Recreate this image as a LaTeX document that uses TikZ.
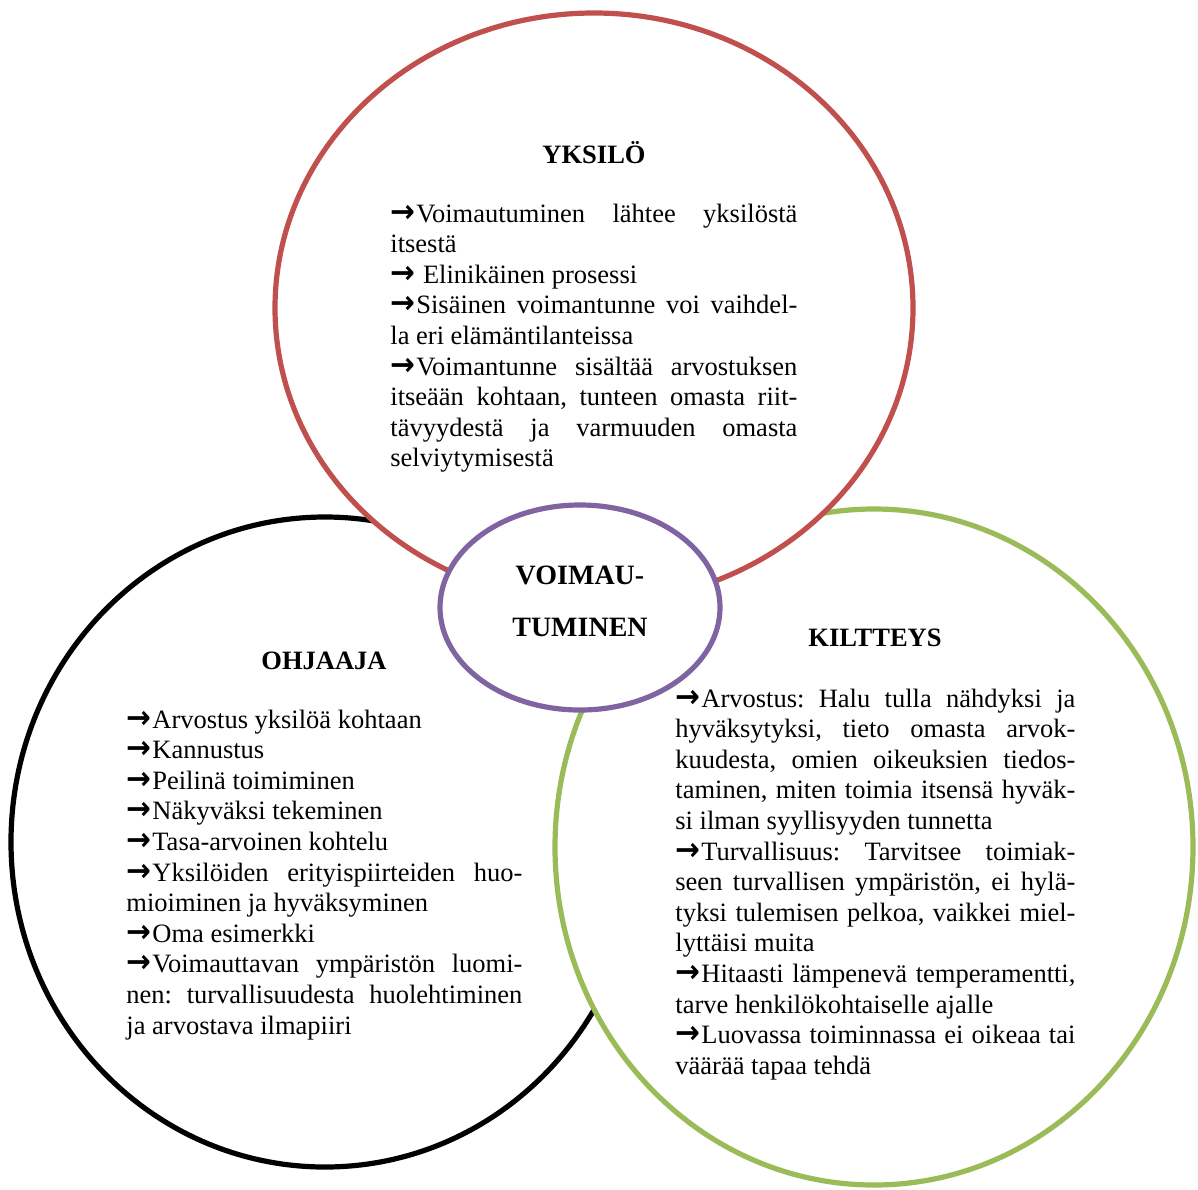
\documentclass[tikz,border=0pt]{standalone}
\usepackage{fontspec}
\setmainfont{Liberation Serif}
\newfontfamily\arrowfont{DejaVu Sans}
\usetikzlibrary{shapes.geometric}
\definecolor{ringred}{HTML}{C0504D}
\definecolor{ringgreen}{HTML}{9BBB59}
\definecolor{ringpurple}{HTML}{8064A2}
\frenchspacing
\newcommand{\arr}{\makebox[0.98em][l]{\arrowfont\bfseries\scalebox{1.12}[1.2]{→}}}
\newcommand{\jrow}[1]{\makebox[\linewidth][s]{#1}\\}
\begin{document}
\begin{tikzpicture}[x=0.5pt,y=-0.5pt,
  ring/.style={ellipse,draw,fill=white,line width=2.6pt,inner sep=0pt},
  head/.style={anchor=base,inner sep=0pt,font=\fontsize{13.25}{15.3}\selectfont\bfseries},
  body/.style={anchor=base west,inner sep=0pt,font=\fontsize{13.25}{15.3}\selectfont}]
\useasboundingbox (0,0) rectangle (1198,1189);
% rings, back to front
\node[ring,draw=black,minimum width=314pt,minimum height=325pt] (ohjaaja) at (325,842) {};
\node[ring,draw=ringgreen,minimum width=319pt,minimum height=338pt] (kiltteys) at (874,847) {};
\node[ring,draw=ringred,minimum width=319pt,minimum height=295pt] (yksilo) at (594,308) {};
\node[ring,draw=ringpurple,minimum width=140pt,minimum height=102.5pt,align=center,
  text depth=6pt,font=\fontsize{14}{26}\selectfont\bfseries] (voima) at (580,607.5) {VOIMAU-\\TUMINEN};
% headings
\node[head] (yksilo-h) at (594,163) {YKSILÖ};
\node[head] (ohjaaja-h) at (324,669) {OHJAAJA};
\node[head] (kiltteys-h) at (875,646) {KILTTEYS};
% texts
\node[body] (yksilo-t) at (390,222) {\parbox[t]{203.5pt}{%
\jrow{\arr Voimautuminen lähtee yksilöstä}
itsestä\\
\arr\ Elinikäinen prosessi\\
\jrow{\arr Sisäinen voimantunne voi vaihdel-}
la eri elämäntilanteissa\\
\jrow{\arr Voimantunne sisältää arvostuksen}
\jrow{itseään kohtaan, tunteen omasta riit-}
\jrow{tävyydestä ja varmuuden omasta}
selviytymisestä}};
\node[body] (ohjaaja-t) at (126,728) {\parbox[t]{198pt}{%
\arr Arvostus yksilöä kohtaan\\
\arr Kannustus\\
\arr Peilinä toimiminen\\
\arr Näkyväksi tekeminen\\
\arr Tasa-arvoinen kohtelu\\
\jrow{\arr Yksilöiden erityispiirteiden huo-}
mioiminen ja hyväksyminen\\
\arr Oma esimerkki\\
\jrow{\arr Voimauttavan ympäristön luomi-}
\jrow{nen: turvallisuudesta huolehtiminen}
ja arvostava ilmapiiri}};
\node[body] (kiltteys-t) at (675,707) {\parbox[t]{200pt}{%
\jrow{\arr Arvostus: Halu tulla nähdyksi ja}
\jrow{hyväksytyksi, tieto omasta arvok-}
\jrow{kuudesta, omien oikeuksien tiedos-}
\jrow{taminen, miten toimia itsensä hyväk-}
si ilman syyllisyyden tunnetta\\
\jrow{\arr Turvallisuus: Tarvitsee toimiak-}
\jrow{seen turvallisen ympäristön, ei hylä-}
\jrow{tyksi tulemisen pelkoa, vaikkei miel-}
lyttäisi muita\\
\jrow{\arr Hitaasti lämpenevä temperamentti,}
tarve henkilökohtaiselle ajalle\\
\jrow{\arr Luovassa toiminnassa ei oikeaa tai}
väärää tapaa tehdä}};
\end{tikzpicture}
\end{document}
